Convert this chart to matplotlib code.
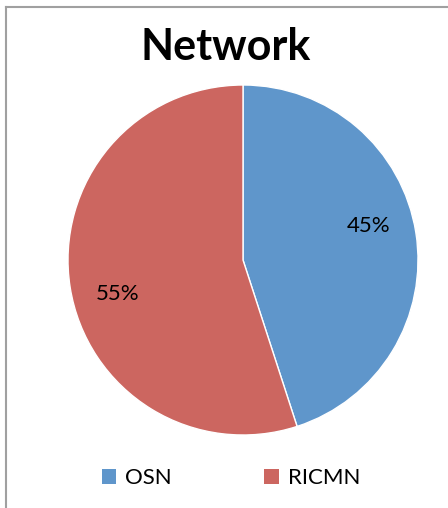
import numpy as np
import matplotlib.pyplot as plt
from matplotlib.patches import Patch
from matplotlib.lines import Line2D

plt.rcParams['font.family'] = ['Lato', 'DejaVu Sans']

labels = ["OSN", "RICMN"]
shares = [45, 55]
colors = ["#5F96CB", "#CC6660"]

fig = plt.figure(figsize=(4.48, 5.08), dpi=100)

# pie axes: radius ~175 px, centre at (243, 260) from top-left
ax = fig.add_axes([68 / 448, 73 / 508, 350 / 448, 350 / 508])
wedges, texts, autotexts = ax.pie(
    shares, colors=colors, startangle=90, counterclock=False,
    autopct='%d%%', pctdistance=0.74, radius=1.0,
    wedgeprops=dict(linewidth=1, edgecolor='white'),
    textprops=dict(fontsize=16, color='black'))
# Excel puts the labels a little further round than the wedge middle
rot = np.deg2rad(6)
for t in autotexts:
    x, y = t.get_position()
    t.set_position((x * np.cos(rot) - y * np.sin(rot),
                    x * np.sin(rot) + y * np.cos(rot)))
ax.set_xlim(-1, 1)
ax.set_ylim(-1, 1)
ax.set_aspect('equal')
ax.axis('off')

fig.text(226 / 448, 1 - 47 / 508, "Network", ha='center', va='center',
         fontsize=31, fontweight='bold')

# chart border (left and top only visible)
fig.add_artist(Line2D([5.5 / 448, 5.5 / 448], [0, 1 - 6.5 / 508],
                      color='#A0A0A0', linewidth=1.5, transform=fig.transFigure))
fig.add_artist(Line2D([5.5 / 448, 1], [1 - 6.5 / 508, 1 - 6.5 / 508],
                      color='#A0A0A0', linewidth=1.5, transform=fig.transFigure))

handles = [Patch(facecolor=c, edgecolor='none') for c in colors]
fig.legend(handles, labels, loc='center', bbox_to_anchor=(231 / 448, 1 - 478 / 508),
           ncol=2, frameon=False, fontsize=16, handlelength=0.65, handleheight=0.65,
           handletextpad=0.4, columnspacing=4.15)

fig.savefig("out.png", dpi=100)
